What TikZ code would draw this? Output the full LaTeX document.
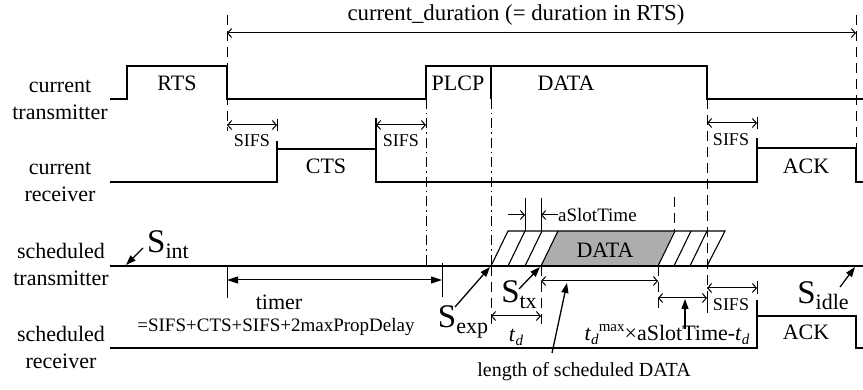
\documentclass[tikz,border=0pt]{standalone}
\usepackage{fontspec}
\setmainfont{Liberation Serif}
\usetikzlibrary{arrows.meta}
\begin{document}
\begin{tikzpicture}[x=1pt,y=-1pt,
  sig/.style={line width=1.8pt, line join=miter},
  thin/.style={line width=1.1pt},
  lbl/.style={font=\fontsize{22}{27}\selectfont, align=center, inner sep=0pt},
  sml/.style={font=\fontsize{18}{20}\selectfont, inner sep=0pt},
  mid/.style={font=\fontsize{19}{22}\selectfont, inner sep=0pt},
  dimarr/.style={line width=1pt, {Straight Barb[length=4pt,width=9pt]}-{Straight Barb[length=4pt,width=9pt]}},
  onearr/.style={line width=1pt, -{Straight Barb[length=4pt,width=9pt]}},
  tmarr/.style={line width=1pt, {Triangle[length=11pt,width=7pt]}-{Triangle[length=11pt,width=7pt]}},
  ptr/.style={line width=1.3pt, -{Triangle[length=10pt,width=7pt]}},
  dsh/.style={line width=1pt, dash pattern=on 10pt off 6pt},
  dshdot/.style={line width=1pt, dash pattern=on 10pt off 4pt on 1.5pt off 4pt},
  tickl/.style={line width=1pt}]
\useasboundingbox (0,0) rectangle (863,390);

% ---------- guide lines ----------
\draw[dsh] (227,15) -- (227,131);
\draw[dsh] (856,15) -- (856,148);
\draw[dshdot] (426,99) -- (426,266);
\draw[dshdot] (491,99) -- (491,266);
\draw[dsh] (491,266) -- (491,327);
\draw[dsh] (541,266) -- (541,327);
\draw[dsh] (658,266) -- (658,310);
\draw[dsh] (707,99) -- (707,313);
\draw[dsh] (674,197) -- (674,231);

% ---------- top duration ----------
\coordinate (d1) at (227,33);
\coordinate (d2) at (856,33);
\draw[dimarr] (d1) -- (d2);
\node[lbl, font=\fontsize{22.8}{27}\selectfont] (dur) at (516,15) {current\_duration (= duration in RTS)};

% ---------- row labels ----------
\node[lbl] (ct) at (60,99.5) {current\\transmitter};
\node[lbl] (cr) at (60,182) {current\\receiver};
\node[lbl] (st) at (61,264.5) {scheduled\\transmitter};
\node[lbl] (sr) at (61,347) {scheduled\\receiver};

% ---------- current transmitter ----------
\draw[sig] (110,99) -- (127,99) -- (127,66) -- (227,66) -- (227,99) -- (426,99)
  -- (426,66) -- (707,66) -- (707,99) -- (863,99);
\draw[sig] (491,66) -- (491,99);
\node[lbl] (rts) at (177,83) {RTS};
\node[lbl] (plcp) at (458,83) {PLCP};
\node[lbl] (data1) at (566,83) {DATA};

% ---------- current receiver ----------
\draw[sig] (110,182) -- (277,182) -- (277,149) -- (376,149) -- (376,182) -- (757,182)
  -- (757,148) -- (856,148) -- (856,182) -- (863,182);
\draw[sig] (277,149) -- (277,141);
\draw[sig] (376,149) -- (376,118);
\draw[sig] (757,148) -- (757,138);
\node[lbl] (cts) at (326,166) {CTS};
\node[lbl] (ack1) at (806,166) {ACK};

% SIFS arrows (current)
\draw[tickl] (277,119) -- (277,131);
\draw[dimarr] (227,125) -- (277,125);
\node[sml] (sifs1) at (252,141) {SIFS};
\draw[dimarr] (376,125) -- (426,125);
\node[sml] (sifs2) at (401,141) {SIFS};
\draw[tickl] (757,117) -- (757,129);
\draw[dimarr] (707,123) -- (757,123);
\node[sml] (sifs3) at (731,140) {SIFS};

% ---------- scheduled transmitter ----------
\fill[black!32] (541,266) -- (558,231) -- (674,231) -- (658,266) -- cycle;
\draw[thin] (491,266) -- (508,231) -- (725,231) -- (707,266);
\foreach \a in {508,525,541,658,674,690}
  \draw[thin] (\a,266) -- ({\a+17},231);
\node[lbl] (data2) at (605,250) {DATA};
\draw[sig] (110,266) -- (863,266);

% aSlotTime markers
\draw[tickl] (525,198) -- (525,231);
\draw[tickl] (541,198) -- (541,231);
\draw[onearr] (508,215) -- (525,215);
\draw[onearr] (558,215) -- (541,215);
\node[mid, anchor=west] (aslot) at (558,215) {aSlotTime};

% timer
\draw[tickl] (227,266) -- (227,298);
\draw[tickl] (442,263) -- (442,297);
\draw[tmarr] (227,280) -- (442,280);
\node[lbl] (timer) at (279,302) {timer};
\node[mid] (timerf) at (276,327) {=SIFS+CTS+SIFS+2maxPropDelay};

% length, t_d and remainder arrows
\draw[dimarr] (541,281) -- (658,281);
\draw[dimarr] (491,316) -- (541,316);
\node[lbl] (td) at (516,337) {\textit{t}\raisebox{-4pt}{\fontsize{15}{15}\selectfont\textit{d}}};
\draw[dimarr] (658,298) -- (707,298);
\draw[tickl] (707,300) -- (707,313);
\node[lbl] (tdmax) at (667,335) {\textit{t}\raisebox{-4pt}{\fontsize{15}{15}\selectfont\textit{d}}\raisebox{9pt}{\fontsize{15}{15}\selectfont max}×aSlotTime-\textit{t}\raisebox{-4pt}{\fontsize{15}{15}\selectfont\textit{d}}};
\coordinate (up1) at (685,329);
\coordinate (up2) at (685,299);
\draw[ptr] (up1) -- (up2);

\node[font=\fontsize{20}{22}\selectfont, inner sep=0pt] (lenlbl) at (584,372) {length of scheduled DATA};
\coordinate (len1) at (552,353);
\coordinate (len2) at (567,283);
\draw[ptr] (len1) -- (len2);

% SIFS (scheduled)
\draw[tickl] (757,281) -- (757,294);
\draw[dimarr] (707,288) -- (757,288);
\node[sml] (sifs4) at (731,305) {SIFS};

% ---------- scheduled receiver ----------
\draw[sig] (110,348) -- (757,348) -- (757,316) -- (856,316) -- (856,348) -- (863,348);
\draw[sig] (757,316) -- (757,300);
\node[lbl] (ack2) at (806,332) {ACK};

% ---------- state labels ----------
\newcommand{\stl}[1]{{\fontsize{33}{33}\selectfont S}\raisebox{-6pt}{\fontsize{22}{22}\selectfont #1}}
\node[inner sep=0pt] (sint) at (168,245) {\stl{int}};
\coordinate (sint1) at (143,248);
\coordinate (sint2) at (126,265);
\draw[ptr] (sint1) -- (sint2);

\node[inner sep=0pt] (sexp) at (463,322) {\stl{exp}};
\coordinate (sexp1) at (455,307);
\coordinate (sexp2) at (490,267);
\draw[ptr] (sexp1) -- (sexp2);

\node[inner sep=0pt] (stx) at (519,295) {\stl{tx}};
\coordinate (stx1) at (519,289);
\coordinate (stx2) at (540,267);
\draw[ptr] (stx1) -- (stx2);

\node[inner sep=0pt] (sidle) at (823,296) {\stl{idle}};
\coordinate (sidle1) at (840,287);
\coordinate (sidle2) at (855,267);
\draw[ptr] (sidle1) -- (sidle2);
\end{tikzpicture}
\end{document}
